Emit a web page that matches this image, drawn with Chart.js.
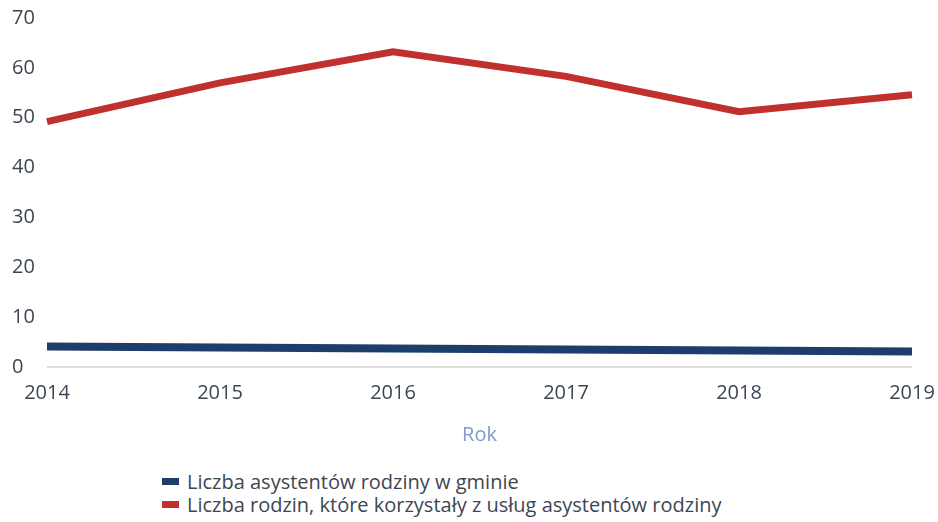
<!DOCTYPE html>
<html>
<head>
<meta charset="utf-8">
<script src="https://cdn.jsdelivr.net/npm/chart.js@4"></script>
<style>
  html, body { margin: 0; padding: 0; background: #ffffff; }
  #wrap { position: relative; width: 938px; height: 522px; }
  #c { position: absolute; left: 0; top: 0; }
  #legend { position: absolute; left: 162px; top: 470px; font-family: "Open Sans", sans-serif; font-size: 20px; color: #3d4752; line-height: 23px; }
  #legend .item { display: flex; align-items: center; white-space: nowrap; height: 23px; }
  #legend .box { display: inline-block; width: 17px; height: 7px; margin-right: 8px; }
</style>
</head>
<body>
<div id="wrap">
  <canvas id="c" width="938" height="460"></canvas>
  <div id="legend"></div>
</div>
<script>
const categories = ["2014", "2015", "2016", "2017", "2018", "2019"];
const seriesNames = [
  "Liczba asystentów rodziny w gminie",
  "Liczba rodzin, które korzystały z usług asystentów rodziny"
];
const assistants = [4.1, 3.9, 3.7, 3.5, 3.3, 3.1];
const families = [49.2, 57, 63.2, 58.3, 51.2, 54.6];
const yTicks = [0, 10, 20, 30, 40, 50, 60, 70];
const axisTitle = "Rok";

const colors = ["#1d3e6c", "#c0302e"];
const widths = [8, 7];

const data = {
  labels: categories,
  datasets: [
    { label: seriesNames[0], data: assistants, borderColor: colors[0], backgroundColor: colors[0], borderWidth: widths[0], pointRadius: 0, tension: 0, borderCapStyle: 'butt' },
    { label: seriesNames[1], data: families, borderColor: colors[1], backgroundColor: colors[1], borderWidth: widths[1], pointRadius: 0, tension: 0, borderCapStyle: 'butt' }
  ]
};

const textColor = "#3d4752";
const font = { family: "'Open Sans', sans-serif", size: 20 };

new Chart(document.getElementById('c'), {
  type: 'line',
  data: data,
  options: {
    responsive: false,
    animation: false,
    layout: { padding: { left: 12, right: 26, top: 18, bottom: 13 } },
    plugins: { legend: { display: false }, tooltip: { enabled: false } },
    scales: {
      x: {
        offset: false,
        afterFit: (s) => { s.paddingLeft = 0; s.paddingRight = 0; s.height = 80; },
        grid: { display: false, drawTicks: false },
        border: { display: false },
        ticks: { color: textColor, font: font, padding: 14, maxRotation: 0, autoSkip: false },
        title: { display: true, text: axisTitle, color: "#7f9ccc", font: { family: "'Open Sans', sans-serif", size: 20 }, padding: { top: 18, bottom: 0 } }
      },
      y: {
        min: 0, max: 70,
        afterBuildTicks: (s) => { s.ticks = yTicks.map(v => ({ value: v })); },
        afterFit: (s) => { s.width = 35; s.paddingTop = 0; s.paddingBottom = 0; },
        grid: { drawTicks: false, color: (ctx) => ctx.tick && ctx.tick.value === 0 ? '#dcdcdc' : 'rgba(0,0,0,0)', lineWidth: 2 },
        border: { display: false },
        ticks: { color: textColor, font: font, padding: 0, crossAlign: 'far' }
      }
    }
  }
});

const legend = document.getElementById('legend');
seriesNames.forEach((name, i) => {
  const item = document.createElement('div');
  item.className = 'item';
  const box = document.createElement('span');
  box.className = 'box';
  box.style.background = colors[i];
  const txt = document.createElement('span');
  txt.textContent = name;
  item.appendChild(box);
  item.appendChild(txt);
  legend.appendChild(item);
});
</script>
</body>
</html>
